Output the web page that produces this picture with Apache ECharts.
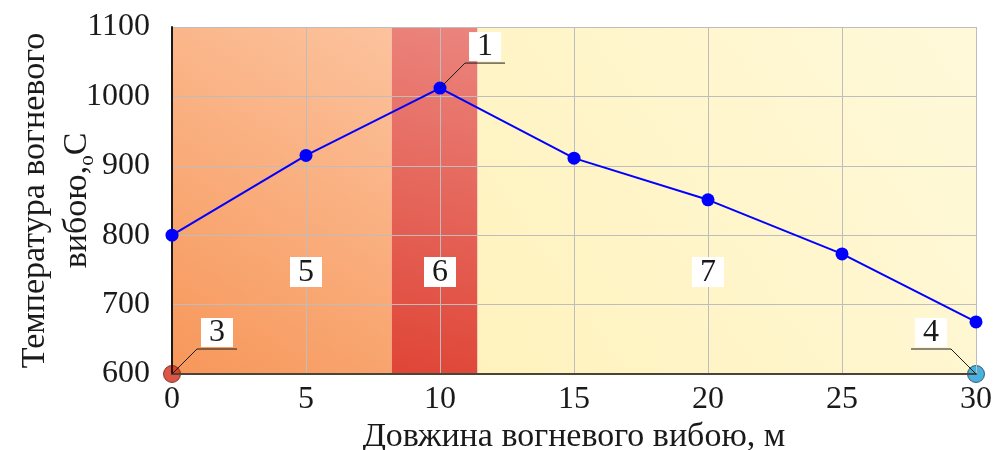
<!DOCTYPE html>
<html><head><meta charset="utf-8">
<script src="https://cdn.jsdelivr.net/npm/echarts@6/dist/echarts.min.js"></script>
<style>html,body{margin:0;padding:0;background:#fff}#c{width:994px;height:450px}</style>
</head><body><div id="c"></div>
<script>
// ---- data ----
const xValues = [0, 5, 10, 15, 20, 25, 30];
const temperature = [800, 915, 1012, 911, 851, 773, 675];
const zoneBounds = [0, 8.2, 11.4, 30];          // zone 5 | zone 6 | zone 7
const zoneLabels = ['5', '6', '7'];
const zoneLabelX = [5, 10, 20];
const zoneLabelY = [747, 747, 747];
const endPointsX = [0, 30];
const endPointsY = [600, 600];
const calloutX = [10, 0, 30];
const calloutY = [1012, 600, 600];
const calloutText = ['1', '3', '4'];
const xTicks = { min: 0, max: 30, interval: 5 };
const yTicks = { min: 600, max: 1100, interval: 100 };
const xTitle = 'Довжина вогневого вибою, м';
const yTitleLine1 = 'Температура вогневого';
const yTitleLine2 = 'вибою,';

// ---- styles ----
const FONT = '"Liberation Serif", "DejaVu Serif", serif';
const calloutDir = [1, 1, -1];
const zoneColors = [
  ['#f7975a', '#fcc39e'],
  ['#df4536', '#eb857e'],
  ['#fff2bd', '#fff9da']
];
const endColors = [['#d62a18', '#6a2015'], ['#1a9ed8', '#1a4058']];

function grad(c) {
  return { type: 'linear', x: 0, y: 1, x2: 1, y2: 0,
    colorStops: [{ offset: 0, color: c[0] }, { offset: 1, color: c[1] }] };
}

const markAreaData = zoneLabels.map((_, i) => [
  { xAxis: zoneBounds[i], itemStyle: { color: grad(zoneColors[i]) } },
  { xAxis: zoneBounds[i + 1] }
]);

const chart = echarts.init(document.getElementById('c'), null, { renderer: 'canvas' });

chart.setOption({
  animation: false,
  backgroundColor: '#ffffff',
  grid: { left: 172, right: 18, top: 27, bottom: 76, containLabel: false,
          outerBoundsMode: 'none', show: false },
  xAxis: {
    type: 'value', min: xTicks.min, max: xTicks.max, interval: xTicks.interval,
    z: 1.5,
    name: xTitle, nameLocation: 'middle', nameGap: 46, nameMoveOverlap: false,
    nameTextStyle: { fontFamily: FONT, fontSize: 34, color: '#1a1a1a' },
    axisLine: { show: true, lineStyle: { color: '#4a4536', width: 2 } },
    axisTick: { show: false },
    axisLabel: { fontFamily: FONT, fontSize: 32, color: '#1a1a1a', margin: 10,
      formatter: v => String(v) },
    splitLine: { show: true, lineStyle: { color: '#bdbdbd', width: 1 } }
  },
  yAxis: {
    type: 'value', min: yTicks.min, max: yTicks.max, interval: yTicks.interval,
    z: 1.5,
    name: yTitleLine1 + '\n' + yTitleLine2 + '{o|о}С',
    nameLocation: 'middle', nameRotate: 90, nameGap: 74, nameMoveOverlap: false,
    nameTextStyle: { fontFamily: FONT, fontSize: 34, color: '#1a1a1a', lineHeight: 42,
      rich: { o: { fontFamily: FONT, fontSize: 21, color: '#1a1a1a', verticalAlign: 'bottom' } } },
    axisLine: { show: true, lineStyle: { color: '#1a1a1a', width: 2 } },
    axisTick: { show: false },
    axisLabel: { fontFamily: FONT, fontSize: 32, color: '#1a1a1a', margin: 22,
      formatter: v => String(v) },
    splitLine: { show: true, lineStyle: { color: '#bdbdbd', width: 1 } }
  },
  series: [
    {
      type: 'line', z: 2,
      data: xValues.map((x, i) => [x, temperature[i]]),
      symbol: 'circle', symbolSize: 13,
      itemStyle: { color: '#0000ff' },
      lineStyle: { color: '#0000ff', width: 2 },
      markArea: { silent: true, data: markAreaData, label: { show: false } }
    },
    {
      type: 'scatter', z: 1.2,
      data: endPointsX.map((x, i) => ({ value: [x, endPointsY[i]],
        itemStyle: { color: endColors[i][0], borderColor: endColors[i][1], borderWidth: 1 } })),
      symbolSize: 17
    },
    {
      type: 'custom', z: 4, silent: true,
      data: calloutX.map((x, i) => [x, calloutY[i]]),
      renderItem: function (params, api) {
        const i = params.dataIndex;
        const p = api.coord([api.value(0), api.value(1)]);
        const s = calloutDir[i];
        const ex = p[0] + s * 25, ey = p[1] - 25;
        const hx = ex + s * 40;
        const cx = (ex + hx) / 2;
        return { type: 'group', children: [
          { type: 'polyline', shape: { points: [[p[0], p[1]], [ex, ey], [hx, ey]] },
            style: { stroke: '#1a1a1a', lineWidth: 1, fill: null } },
          { type: 'rect', shape: { x: cx - 16, y: ey - 31, width: 32, height: 29 },
            style: { fill: '#ffffff' } },
          { type: 'text', x: cx, y: ey - 16,
            style: { text: calloutText[i], font: '32px ' + FONT, fill: '#1a1a1a',
              align: 'center', verticalAlign: 'middle' } }
        ] };
      }
    },
    {
      type: 'custom', z: 4, silent: true,
      data: zoneLabelX.map((x, i) => [x, zoneLabelY[i]]),
      renderItem: function (params, api) {
        const i = params.dataIndex;
        const p = api.coord([api.value(0), api.value(1)]);
        return { type: 'group', children: [
          { type: 'rect', shape: { x: p[0] - 16, y: p[1] - 15, width: 32, height: 30 },
            style: { fill: '#ffffff' } },
          { type: 'text', x: p[0], y: p[1] + 1,
            style: { text: zoneLabels[i], font: '32px ' + FONT, fill: '#1a1a1a',
              align: 'center', verticalAlign: 'middle' } }
        ] };
      }
    }
  ]
});
</script>
</body></html>
